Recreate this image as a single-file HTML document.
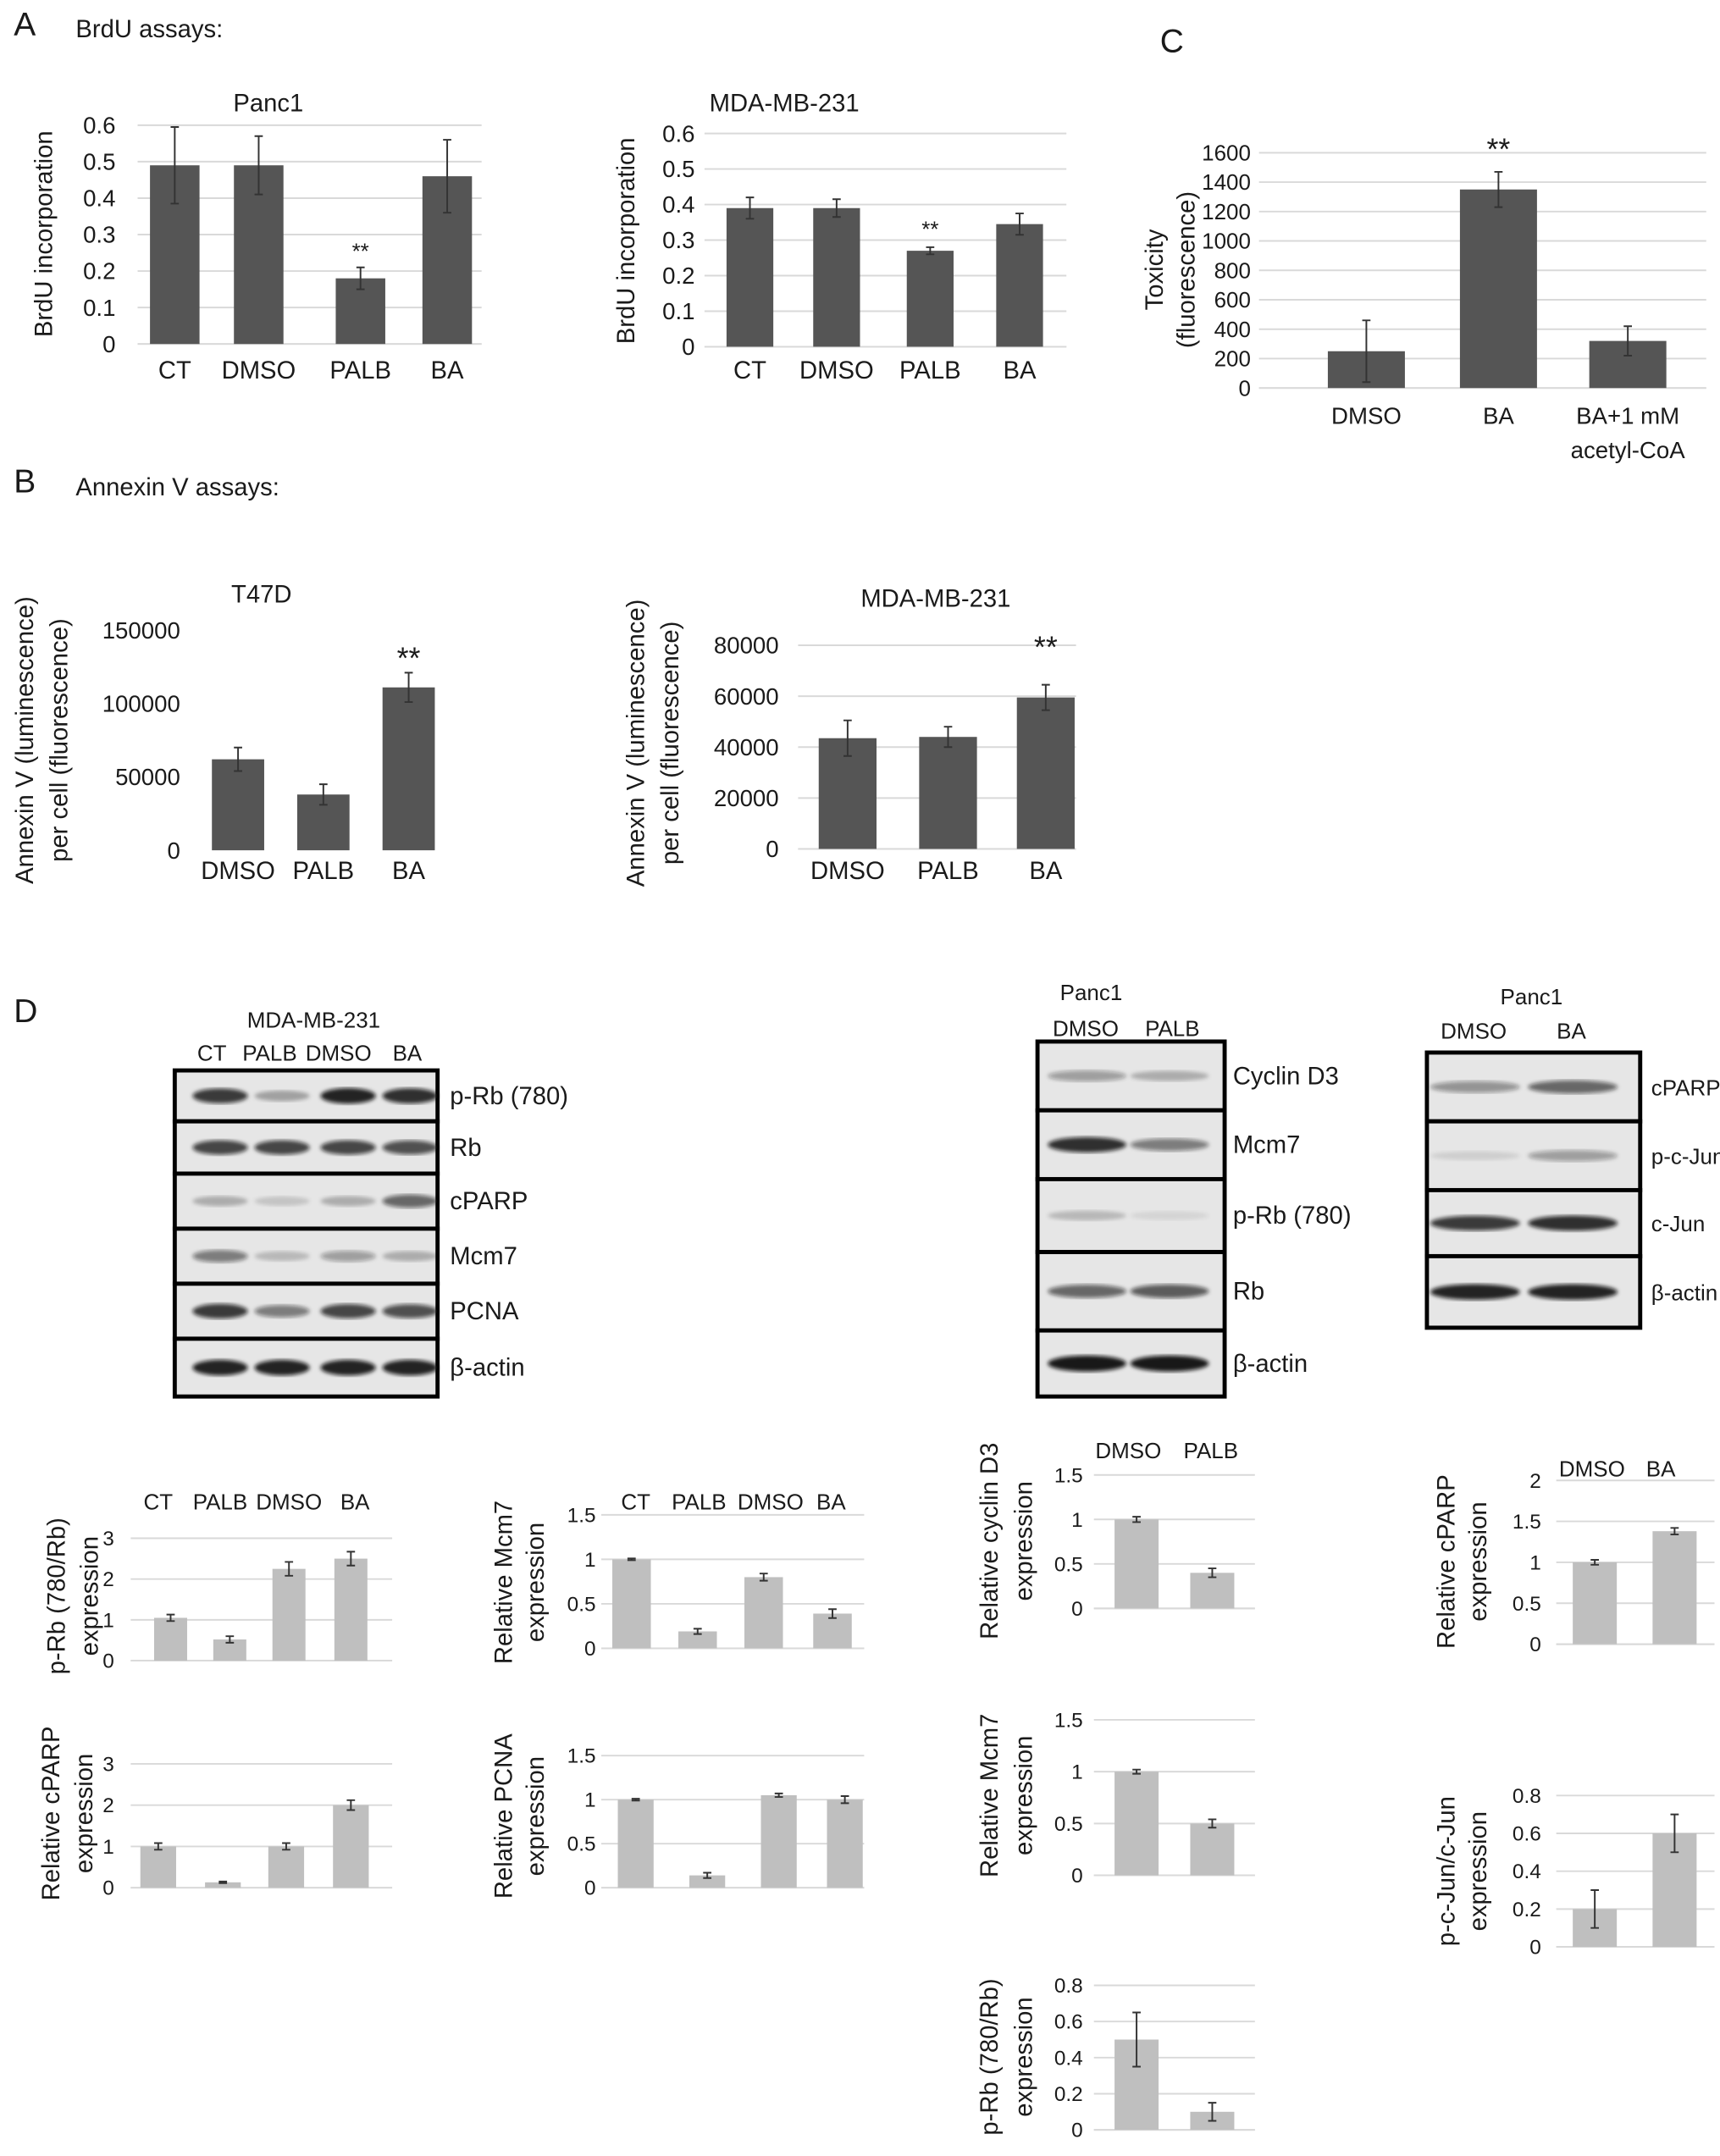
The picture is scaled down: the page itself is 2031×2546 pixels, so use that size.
<!DOCTYPE html>
<html><head><meta charset="utf-8"><style>
html,body{margin:0;padding:0;background:#fff}
svg{display:block}
text{font-family:"Liberation Sans",sans-serif;fill:#1a1a1a}
</style></head><body>
<svg id="fig" width="2031" height="2546" viewBox="0 0 1250 1567" preserveAspectRatio="none" xmlns="http://www.w3.org/2000/svg">
<defs><filter id="blur"><feGaussianBlur stdDeviation="1.5"/></filter></defs>
<g id="root"></g>
</svg>
<script>
// ---- data ----
const panc1Cats=["CT","DMSO","PALB","BA"], panc1Vals=[0.49,0.49,0.18,0.46], panc1Errs=[0.105,0.08,0.03,0.1];
const mdaBrduCats=["CT","DMSO","PALB","BA"], mdaBrduVals=[0.39,0.39,0.27,0.345], mdaBrduErrs=[0.03,0.025,0.01,0.03];
const toxCats=["DMSO","BA","BA+1 mM"], toxVals=[250,1350,320], toxErrs=[210,120,100];
const t47Cats=["DMSO","PALB","BA"], t47Vals=[62000,38000,111000], t47Errs=[8000,7000,10000];
const mdaAnxCats=["DMSO","PALB","BA"], mdaAnxVals=[43500,44000,59500], mdaAnxErrs=[7000,4000,5000];
const dPrbVals=[1.05,0.52,2.25,2.5], dPrbErrs=[0.08,0.08,0.17,0.17];
const dCparpVals=[1,0.13,1,2], dCparpErrs=[0.08,0.02,0.08,0.12];
const dMcmVals=[1,0.19,0.8,0.39], dMcmErrs=[0.01,0.03,0.04,0.05];
const dPcnaVals=[1,0.14,1.05,1.0], dPcnaErrs=[0.01,0.03,0.02,0.04];
const pCycVals=[1,0.4], pCycErrs=[0.03,0.05];
const pMcmVals=[1,0.5], pMcmErrs=[0.02,0.04];
const pRbVals=[0.5,0.1], pRbErrs=[0.15,0.05];
const pCparpVals=[1,1.38], pCparpErrs=[0.03,0.04];
const pJunVals=[0.2,0.6], pJunErrs=[0.1,0.1];

const NS="http://www.w3.org/2000/svg";
const root=document.getElementById('root');
function el(tag,attrs,parent){const e=document.createElementNS(NS,tag);for(const k in attrs)e.setAttribute(k,attrs[k]);(parent||root).appendChild(e);return e;}
function txt(s,x,y,size,anchor,parent,rot){const t=el('text',{x:x,y:y,'font-size':size,'text-anchor':anchor||'start'},parent);if(rot)t.setAttribute('transform','rotate(-90 '+x+' '+y+')');t.textContent=s;return t;}

function chart(o){
  const g=el('g',{});
  
  
  const ys=v=>o.y0-(v/o.max)*(o.y0-o.yTop);
  o.ticks.forEach((tv,i)=>{
    const y=ys(tv);
    if(o.grid){const l=el('line',{x1:o.gx0,x2:o.gx1,y1:y,y2:y,stroke:'#d9d9d9','stroke-width':1.2},g);
      }
    const t=txt(String(tv),o.lx,y+o.fs*0.35,o.fs,'end',g);
    
  });
  const bl=el('line',{x1:o.gx0,x2:o.gx1,y1:o.y0,y2:o.y0,stroke:'#d9d9d9','stroke-width':1.2},g);
  
  o.vals.forEach((v,i)=>{
    const cx=o.cx[i],y=ys(v);
    const r=el('rect',{x:cx-o.bw/2,y:y,width:o.bw,height:o.y0-y,fill:o.color},g);
    
    const e=o.errs[i],yt=ys(v+e),yb=ys(v-e);
    const eb=el('path',{d:`M${cx},${yt}V${yb}M${cx-3},${yt}H${cx+3}M${cx-3},${yb}H${cx+3}`,stroke:'#333','stroke-width':1.2,fill:'none'},g);
    
    if(o.cats){const t=txt(o.cats[i],cx,o.catY,o.fs+1,'middle',g);}
  });
  if(o.star!=null){const s=txt('**',o.cx[o.star],o.starY,o.starFs||20,'middle',g);}
  if(o.title){const t=txt(o.title[0],o.title[1],o.title[2],18,'middle',g);}
  o.ylab.forEach(([s,x])=>{const t=txt(s,x,o.ylabY,o.ylfs||18,'middle',g,true);});
  return g;
}
const dark='#555555', light='#bfbfbf';
// Panel A
chart({name:'panc1-brdu-chart',y0:250,yTop:91,max:0.6,ticks:[0,0.1,0.2,0.3,0.4,0.5,0.6],grid:true,gx0:100,gx1:350,lx:84,fs:17,
 vals:panc1Vals,errs:panc1Errs,cx:[127,188,262,325],bw:36,color:dark,cats:panc1Cats,catY:275,star:2,starY:188,starFs:16,
 title:['Panc1',195,81],ylab:[['BrdU incorporation',38]],ylabY:170});
chart({name:'mda-brdu-chart',y0:252,yTop:97,max:0.6,ticks:[0,0.1,0.2,0.3,0.4,0.5,0.6],grid:true,gx0:512,gx1:775,lx:505,fs:17,
 vals:mdaBrduVals,errs:mdaBrduErrs,cx:[545,608,676,741],bw:34,color:dark,cats:mdaBrduCats,catY:275,star:2,starY:172,starFs:16,
 title:['MDA-MB-231',570,81],ylab:[['BrdU incorporation',461]],ylabY:175});
// Panel C
chart({name:'toxicity-chart',y0:282,yTop:111,max:1600,ticks:[0,200,400,600,800,1000,1200,1400,1600],grid:true,gx0:915,gx1:1240,lx:909,fs:16,
 vals:toxVals,errs:toxErrs,cx:[993,1089,1183],bw:56,color:dark,cats:toxCats,catY:308,star:1,starY:116,starFs:22,
 ylab:[['Toxicity',845],['(fluorescence)',868]],ylabY:196});
// Panel B
chart({name:'t47d-annexin-chart',y0:618,yTop:458,max:150000,ticks:[0,50000,100000,150000],grid:false,gx0:140,gx1:140,lx:131,fs:17,
 vals:t47Vals,errs:t47Errs,cx:[173,235,297],bw:38,color:dark,cats:t47Cats,catY:639,star:2,starY:486,starFs:22,
 title:['T47D',190,438],ylab:[['Annexin V (luminescence)',24],['per cell (fluorescence)',49]],ylabY:538});
chart({name:'mda-annexin-chart',y0:617,yTop:469,max:80000,ticks:[0,20000,40000,60000,80000],grid:true,gx0:580,gx1:782,lx:566,fs:17,
 vals:mdaAnxVals,errs:mdaAnxErrs,cx:[616,689,760],bw:42,color:dark,cats:mdaAnxCats,catY:639,star:2,starY:478,starFs:22,
 title:['MDA-MB-231',680,441],ylab:[['Annexin V (luminescence)',468],['per cell (fluorescence)',493]],ylabY:540});
// Panel D charts
chart({name:'prb-quant-chart',y0:1207,yTop:1118,max:3,ticks:[0,1,2,3],grid:true,gx0:95,gx1:285,lx:83,fs:15,
 vals:dPrbVals,errs:dPrbErrs,cx:[124,167,210,255],bw:24,color:light,ylab:[['p-Rb (780/Rb)',47],['expression',71]],ylabY:1160});
chart({name:'cparp-quant-chart',y0:1372,yTop:1282,max:3,ticks:[0,1,2,3],grid:true,gx0:95,gx1:285,lx:83,fs:15,
 vals:dCparpVals,errs:dCparpErrs,cx:[115,162,208,255],bw:26,color:light,ylab:[['Relative cPARP',43],['expression',67]],ylabY:1318});
chart({name:'mcm7-quant-chart',y0:1198,yTop:1101,max:1.5,ticks:[0,0.5,1,1.5],grid:true,gx0:437,gx1:628,lx:433,fs:15,
 vals:dMcmVals,errs:dMcmErrs,cx:[459,507,555,605],bw:28,color:light,ylab:[['Relative Mcm7',372],['expression',395]],ylabY:1150});
chart({name:'pcna-quant-chart',y0:1372,yTop:1276,max:1.5,ticks:[0,0.5,1,1.5],grid:true,gx0:437,gx1:628,lx:433,fs:15,
 vals:dPcnaVals,errs:dPcnaErrs,cx:[462,514,566,614],bw:26,color:light,ylab:[['Relative PCNA',372],['expression',395]],ylabY:1320});
chart({name:'cyclind3-quant-chart',y0:1169,yTop:1072,max:1.5,ticks:[0,0.5,1,1.5],grid:true,gx0:795,gx1:912,lx:787,fs:15,
 vals:pCycVals,errs:pCycErrs,cx:[826,881],bw:32,color:light,ylab:[['Relative cyclin D3',725],['expression',750]],ylabY:1120});
chart({name:'panc1-mcm7-quant-chart',y0:1363,yTop:1250,max:1.5,ticks:[0,0.5,1,1.5],grid:true,gx0:795,gx1:912,lx:787,fs:15,
 vals:pMcmVals,errs:pMcmErrs,cx:[826,881],bw:32,color:light,ylab:[['Relative Mcm7',725],['expression',750]],ylabY:1305});
chart({name:'panc1-prb-quant-chart',y0:1548,yTop:1443,max:0.8,ticks:[0,0.2,0.4,0.6,0.8],grid:true,gx0:795,gx1:912,lx:787,fs:15,
 vals:pRbVals,errs:pRbErrs,cx:[826,881],bw:32,color:light,ylab:[['p-Rb (780/Rb)',725],['expression',750]],ylabY:1495});
chart({name:'panc1-cparp-quant-chart',y0:1195,yTop:1076,max:2,ticks:[0,0.5,1,1.5,2],grid:true,gx0:1131,gx1:1246,lx:1120,fs:15,
 vals:pCparpVals,errs:pCparpErrs,cx:[1159,1217],bw:32,color:light,ylab:[['Relative cPARP',1057],['expression',1080]],ylabY:1135});
chart({name:'pcjun-quant-chart',y0:1415,yTop:1305,max:0.8,ticks:[0,0.2,0.4,0.6,0.8],grid:true,gx0:1131,gx1:1246,lx:1120,fs:15,
 vals:pJunVals,errs:pJunErrs,cx:[1159,1217],bw:32,color:light,ylab:[['p-c-Jun/c-Jun',1057],['expression',1080]],ylabY:1360});
// headers for D quant charts
[['CT',115],['PALB',160],['DMSO',210],['BA',258]].forEach(([s,x])=>{const t=txt(s,x,1097,16,'middle');});
[['CT',462],['PALB',508],['DMSO',560],['BA',604]].forEach(([s,x])=>{const t=txt(s,x,1097,16,'middle');});
[['DMSO',820],['PALB',880]].forEach(([s,x])=>{const t=txt(s,x,1060,16,'middle');});
[['DMSO',1157],['BA',1207]].forEach(([s,x])=>{const t=txt(s,x,1073,16,'middle');});

// Blots
function blot(name,x0,x1,rows,lanes,labels,intens,lx,fs){
  const g=el('g',{});
  
  
  for(let i=0;i<rows.length-1;i++){
    const r=el('rect',{x:x0,y:rows[i],width:x1-x0,height:rows[i+1]-rows[i],fill:'#e6e6e6',stroke:'#000','stroke-width':3},g);
    
    const cy=(rows[i]+rows[i+1])/2;
    lanes.forEach((lx2,j)=>{
      const a=intens[i][j];
      const b=el('ellipse',{cx:lx2,cy:cy,rx:(x1-x0)/lanes.length*0.42,ry:3+3*a,fill:'#111','fill-opacity':a,filter:'url(#blur)'},g);
      
    });
    const t=txt(labels[i],lx,cy+6,fs||18,'start',g);
  }
}
blot('mda-blot',127,318,[778,815,853,893,933,973,1015],[160,205,253,298],
 ['p-Rb (780)','Rb','cPARP','Mcm7','PCNA','β-actin'],
 [[0.8,0.3,0.9,0.85],[0.75,0.75,0.75,0.7],[0.25,0.15,0.25,0.6],[0.5,0.2,0.35,0.25],[0.8,0.5,0.75,0.7],[0.9,0.9,0.9,0.9]],327);
blot('panc1-blot-1',754,890,[757,807,857,910,967,1015],[790,850],
 ['Cyclin D3','Mcm7','p-Rb (780)','Rb','β-actin'],
 [[0.35,0.25],[0.85,0.5],[0.2,0.08],[0.6,0.65],[0.95,0.95]],896);
blot('panc1-blot-2',1037,1192,[765,815,865,913,965],[1072,1143],
 ['cPARP','p-c-Jun','c-Jun','β-actin'],
 [[0.4,0.6],[0.1,0.35],[0.8,0.85],[0.9,0.9]],1200,16);
[['MDA-MB-231',228,747],['CT',154,771],['PALB',196,771],['DMSO',246,771],['BA',296,771],
 ['Panc1',793,727],['DMSO',789,753],['PALB',852,753],['Panc1',1113,730],['DMSO',1071,755],['BA',1142,755]].forEach(([s,x,y])=>{
 const t=txt(s,x,y,16,'middle');});

// panel labels
[['A',10,26],['B',10,358],['C',843,38],['D',10,743]].forEach(([s,x,y])=>{const t=txt(s,x,y,24,'start');});
[['BrdU assays:',55,27],['Annexin V assays:',55,360]].forEach(([s,x,y])=>{const t=txt(s,x,y,18,'start');});
{const t=txt('acetyl-CoA',1183,333,17,'middle');}
</script>
</body></html>
